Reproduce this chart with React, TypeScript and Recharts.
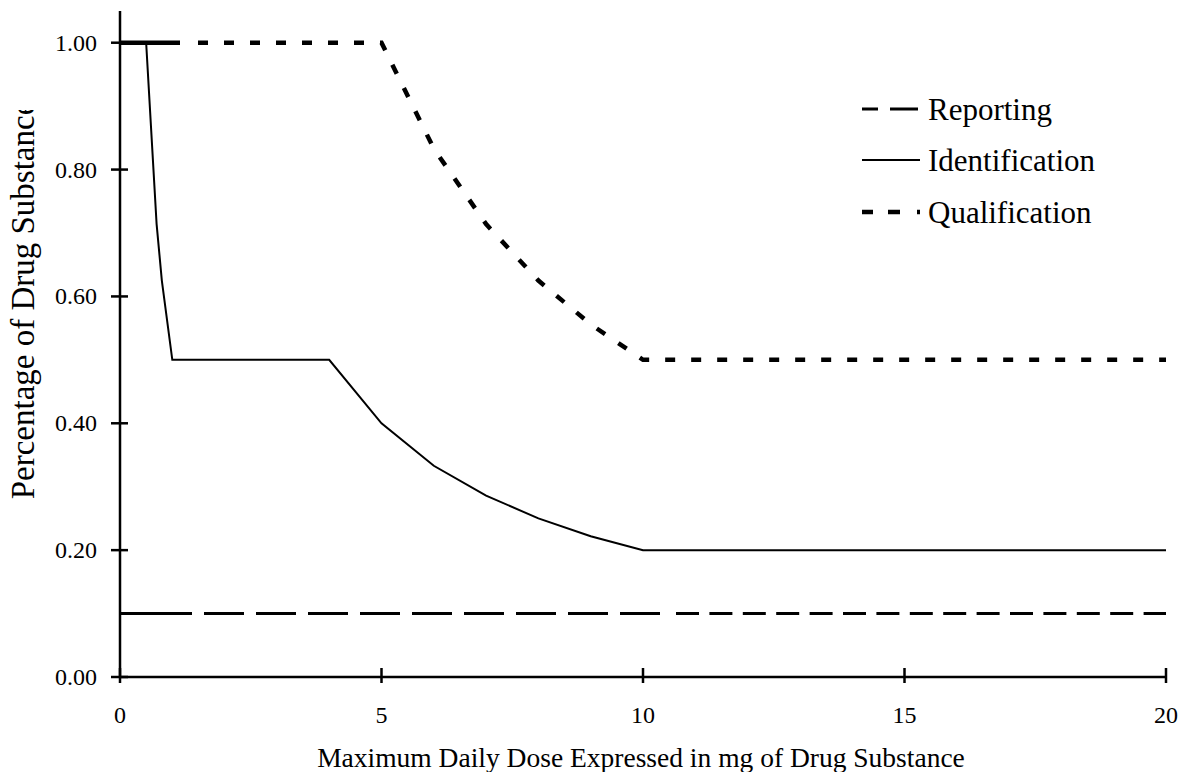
import { LineChart, Line, XAxis, YAxis, Legend } from "recharts";

// dose in mg, threshold in %
const reportingDoses = [0, 20];
const reportingValues = [0.1, 0.1];

const identificationDoses = [0, 0.5, 0.7, 0.8, 1, 4, 5, 6, 7, 8, 9, 10, 20];
const identificationValues = [1, 1, 0.714, 0.625, 0.5, 0.5, 0.4, 0.333, 0.286, 0.25, 0.222, 0.2, 0.2];

const qualificationDoses = [0, 5, 6, 7, 8, 9, 10, 20];
const qualificationValues = [1, 1, 0.833, 0.714, 0.625, 0.556, 0.5, 0.5];

const xTicks = [0, 5, 10, 15, 20];
const yTicks = [0, 0.2, 0.4, 0.6, 0.8, 1.0];

const toPoints = (xs: number[], ys: number[]) => xs.map((x, i) => ({ x, y: ys[i] }));

const reporting = toPoints(reportingDoses, reportingValues);
const identification = toPoints(identificationDoses, identificationValues);
const qualification = toPoints(qualificationDoses, qualificationValues);

const FONT = '"Liberation Serif", "Times New Roman", serif';

// dash patterns (dash gap dash gap ...)
const repeat = (pair: number[], n: number) => Array.from({ length: n }, () => pair.join(" ")).join(" ");
const reportingDash = "72 12 " + repeat([40, 12], 8) + " 40 16 " + repeat([23, 10.4], 15);
const qualificationDash = "60 18 " + repeat([10, 16], 60);

const legendStyles: Record<string, { dash?: string; width: number; y: number }> = {
  Reporting: { dash: "16 12 28 40", width: 3, y: 19 },
  Identification: { width: 2, y: 70 },
  Qualification: { dash: "11 15 12 17 3 40", width: 4.5, y: 122 },
};

const XTick = (props: any) => {
  const { x, y, payload } = props;
  return (
    <g>
      <line x1={x} x2={x} y1={y - 9} y2={y + 6} stroke="#000" strokeWidth={2.5} />
      <text x={x} y={y + 46} textAnchor="middle" fontFamily={FONT} fontSize={24} fill="#000">
        {payload.value}
      </text>
    </g>
  );
};

const YTick = (props: any) => {
  const { x, y, payload } = props;
  return (
    <g>
      <line x1={x - 9} x2={x + 8} y1={y} y2={y} stroke="#000" strokeWidth={2.5} />
      <text x={x - 23} y={y + 8} textAnchor="end" fontFamily={FONT} fontSize={24} fill="#000">
        {Number(payload.value).toFixed(2)}
      </text>
    </g>
  );
};

const LegendBox = (props: any) => {
  const items = (props.payload || []) as any[];
  return (
    <svg width={280} height={150} style={{ overflow: "visible", display: "block" }}>
      {items.map((item) => {
        const s = legendStyles[item.value];
        if (!s) return null;
        return (
          <g key={item.value}>
            <line x1={22} x2={80} y1={s.y} y2={s.y} stroke="#000" strokeWidth={s.width} strokeDasharray={s.dash} />
            <text x={88} y={s.y + 11} fontFamily={FONT} fontSize={31} fill="#000">
              {item.value}
            </text>
          </g>
        );
      })}
    </svg>
  );
};

const YLabel = () => (
  <g clipPath="url(#ylab-clip)">
    <defs>
      <clipPath id="ylab-clip" clipPathUnits="userSpaceOnUse">
        <rect x={0} y={110} width={80} height={450} />
      </clipPath>
    </defs>
    <text
      x={34}
      y={300}
      transform="rotate(-90 34 300)"
      textAnchor="middle"
      fontFamily={FONT}
      fontSize={33}
      fill="#000"
    >
      Percentage of Drug Substance
    </text>
  </g>
);

const XLabel = () => (
  <text x={641} y={767} textAnchor="middle" fontFamily={FONT} fontSize={27.5} fill="#000">
    Maximum Daily Dose Expressed in mg of Drug Substance
  </text>
);

export default function App() {
  return (
    <div style={{ position: "absolute", left: 0, top: 0, width: 1180, height: 772, background: "#fff" }}>
      <LineChart width={1180} height={772} margin={{ top: 11, right: 14, bottom: 0, left: 0 }}>
        <XAxis
          dataKey="x"
          type="number"
          domain={[0, 20]}
          ticks={xTicks}
          height={95}
          axisLine={{ stroke: "#000", strokeWidth: 2.5 }}
          tickLine={false}
          tickSize={0}
          tickMargin={0}
          tick={<XTick />}
          label={<XLabel />}
          allowDataOverflow
        />
        <YAxis
          type="number"
          domain={[0, 1.05]}
          ticks={yTicks}
          width={120}
          axisLine={{ stroke: "#000", strokeWidth: 2.5 }}
          tickLine={false}
          tickSize={0}
          tickMargin={0}
          tick={<YTick />}
          label={<YLabel />}
          allowDataOverflow
        />
        <Legend
          content={<LegendBox />}
          layout="vertical"
          align="center"
          verticalAlign="middle"
          wrapperStyle={{ position: "absolute", left: 840, top: 90, width: 280, height: 150 }}
        />
        <Line
          name="Reporting"
          data={reporting}
          dataKey="y"
          type="linear"
          stroke="#000"
          strokeWidth={3}
          strokeDasharray={reportingDash}
          dot={false}
          activeDot={false}
          isAnimationActive={false}
        />
        <Line
          name="Identification"
          data={identification}
          dataKey="y"
          type="linear"
          stroke="#000"
          strokeWidth={2}
          dot={false}
          activeDot={false}
          isAnimationActive={false}
        />
        <Line
          name="Qualification"
          data={qualification}
          dataKey="y"
          type="linear"
          stroke="#000"
          strokeWidth={4.5}
          strokeDasharray={qualificationDash}
          dot={false}
          activeDot={false}
          isAnimationActive={false}
        />
      </LineChart>
    </div>
  );
}
